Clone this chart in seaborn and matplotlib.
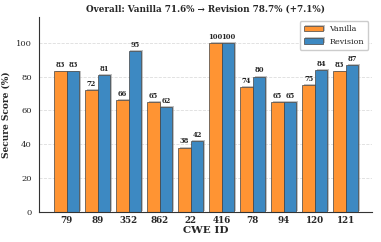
import matplotlib
matplotlib.use("Agg")
import matplotlib.pyplot as plt
import matplotlib.patheffects as pe
import seaborn as sns
import pandas as pd

cwe_ids = ["79", "89", "352", "862", "22", "416", "78", "94", "120", "121"]
vanilla = [83, 72, 66, 65, 38, 100, 74, 65, 75, 83]
revision = [83, 81, 95, 62, 42, 100, 80, 65, 84, 87]
series = ["Vanilla", "Revision"]
colors = ["#ff9433", "#3d89c2"]

df = pd.DataFrame({
    "CWE ID": cwe_ids * 2,
    "Score": vanilla + revision,
    "Method": [series[0]] * len(cwe_ids) + [series[1]] * len(cwe_ids),
})

sns.set_style("white")
plt.rcParams["font.family"] = ["DejaVu Serif"]

fig, ax = plt.subplots(figsize=(3.81, 2.42), dpi=100)
sns.barplot(data=df, x="CWE ID", y="Score", hue="Method", order=cwe_ids,
            hue_order=series, palette=colors, width=0.8, ax=ax,
            edgecolor="#444444", linewidth=0.5, errorbar=None, saturation=1)

for patch in ax.patches:
    patch.set_path_effects([pe.SimplePatchShadow(offset=(1.2, 0.6), shadow_rgbFace="#999999", alpha=0.6), pe.Normal()])

for cont in ax.containers:
    ax.bar_label(cont, fmt="%d", fontsize=4.9, fontweight="bold", padding=1.5)

ax.set_ylim(0, 115)
ax.set_xlim(-0.9, 9.85)
ax.set_yticks([0, 20, 40, 60, 80, 100])
ax.yaxis.grid(True, linestyle="--", color="#dddddd", linewidth=0.6)
ax.set_axisbelow(True)
ax.tick_params(axis="y", labelsize=6, length=3, width=0.6, pad=2)
ax.tick_params(axis="x", labelsize=6.3, length=0, pad=3)
for lbl in ax.get_xticklabels():
    lbl.set_fontweight("bold")
ax.set_xlabel("CWE ID", fontsize=7.5, fontweight="bold", labelpad=1)
ax.set_ylabel("Secure Score (%)", fontsize=6.5, fontweight="bold", labelpad=4)
ax.set_title("Overall: Vanilla 71.6% \u2192 Revision 78.7% (+7.1%)", fontsize=6.3, fontweight="bold", pad=4)
for s in ["top", "right"]:
    ax.spines[s].set_visible(False)
for s in ["left", "bottom"]:
    ax.spines[s].set_linewidth(0.8)
    ax.spines[s].set_color("#333333")

leg = ax.legend(loc="upper right", fontsize=5.8, frameon=True, framealpha=1,
                edgecolor="#cccccc", fancybox=True, handlelength=2.4, borderpad=0.5,
                bbox_to_anchor=(1.0, 1.0))
leg.set_title(None)

fig.subplots_adjust(left=0.102, right=0.977, top=0.928, bottom=0.125)
fig.savefig("out.png", dpi=100)
